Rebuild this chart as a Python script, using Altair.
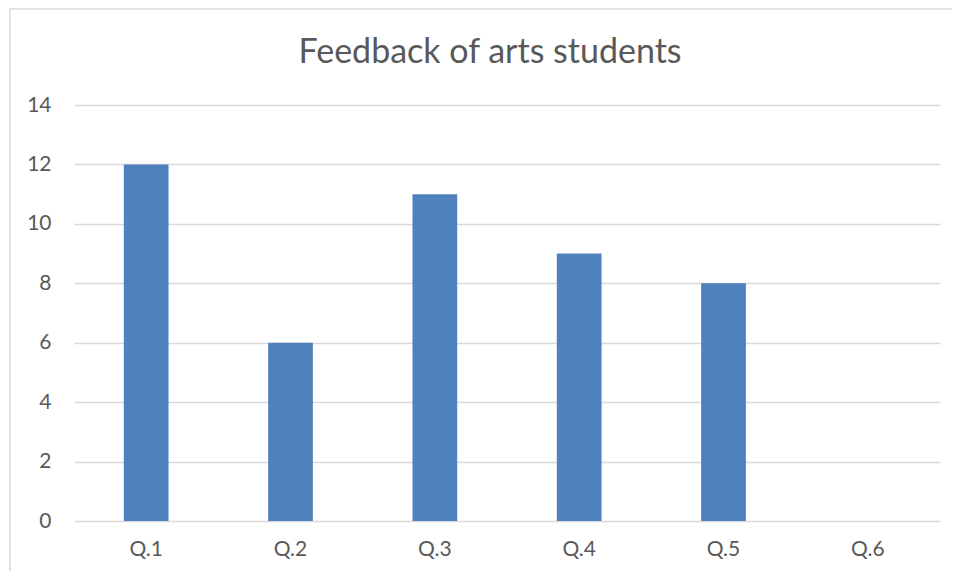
import altair as alt
import pandas as pd

questions = ["Q.1", "Q.2", "Q.3", "Q.4", "Q.5", "Q.6"]
responses = [12, 6, 11, 9, 8, 0]
title_text = ["Feedback of arts students"]

df = pd.DataFrame({"question": questions, "count": responses})

FONT = "Lato"
GRAY = "#595959"
GRID = "#D9D9D9"

border = alt.Chart(pd.DataFrame({"a": [0]})).mark_rect(
    fill=None, stroke=GRID, strokeWidth=1.5, clip=False
).encode(
    x=alt.value(-64), x2=alt.value(880), y=alt.value(-96), y2=alt.value(468)
)

title = alt.Chart(pd.DataFrame({"t": title_text})).mark_text(
    font=FONT, fontSize=34, color=GRAY, align="center", baseline="middle",
    clip=False
).encode(
    text="t:N", x=alt.value(416), y=alt.value(-52)
)

bars = alt.Chart(df).mark_bar(color="#4F81BD").encode(
    x=alt.X("question:N", sort=questions, title=None,
            scale=alt.Scale(paddingInner=0.69, paddingOuter=0.345),
            axis=alt.Axis(labelAngle=0, ticks=False, domain=False,
                          labelPadding=17, labelFontSize=21, labelColor=GRAY,
                          labelFont=FONT)),
    y=alt.Y("count:Q", title=None,
            scale=alt.Scale(domain=[0, 14]),
            axis=alt.Axis(values=[0, 2, 4, 6, 8, 10, 12, 14], ticks=False,
                          domain=False, grid=True, gridColor=GRID,
                          gridWidth=1.5, labelPadding=23, labelFontSize=21,
                          labelColor=GRAY, labelFont=FONT)),
)

chart = alt.layer(border, bars, title).properties(
    width=866,
    height=416,
    autosize=alt.AutoSizeParams(type="none"),
    padding={"left": 66, "top": 97, "right": 12, "bottom": 50},
).configure_view(stroke=None)

chart.save("out.html", embed_options={"renderer": "svg", "actions": False})
